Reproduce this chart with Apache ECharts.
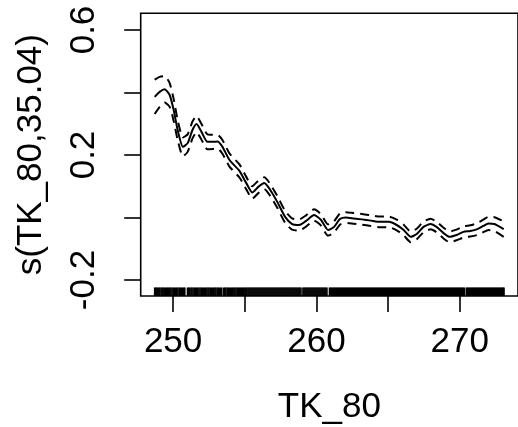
<!DOCTYPE html>
<html>
<head>
<meta charset="utf-8">
<script src="https://cdn.jsdelivr.net/npm/echarts@6/dist/echarts.min.js"></script>
<style>
html,body{margin:0;padding:0;background:#fff;}
#chart{width:518px;height:427px;}
</style>
</head>
<body>
<div id="chart"></div>
<script>
// ---- data ----
const xVals = [248.72, 249.07, 249.42, 249.77, 250.05, 250.33, 250.70, 251.03, 251.37, 251.65, 252.00, 252.42, 252.77, 253.12, 253.47, 253.96, 254.66, 255.14, 255.56, 255.98, 256.40, 256.82, 257.31, 257.86, 258.35, 258.84, 259.33, 259.89, 260.38, 260.87, 261.29, 261.70, 262.12, 262.68, 263.24, 263.87, 264.50, 265.12, 265.68, 266.17, 266.66, 267.08, 267.56, 268.05, 268.47, 268.96, 269.38, 269.87, 270.36, 270.84, 271.33, 271.75, 272.10, 272.52, 273.18];
const fitVals = [0.386, 0.402, 0.410, 0.392, 0.344, 0.280, 0.226, 0.238, 0.280, 0.299, 0.274, 0.242, 0.242, 0.243, 0.226, 0.184, 0.149, 0.110, 0.080, 0.098, 0.110, 0.088, 0.050, 0.002, -0.021, -0.024, -0.011, 0.008, -0.008, -0.040, -0.030, -0.005, 0.000, -0.003, -0.006, -0.010, -0.014, -0.014, -0.024, -0.040, -0.062, -0.053, -0.030, -0.021, -0.030, -0.050, -0.062, -0.056, -0.046, -0.043, -0.037, -0.027, -0.019, -0.021, -0.037];
const upperVals = [0.441, 0.450, 0.452, 0.430, 0.379, 0.312, 0.256, 0.266, 0.307, 0.325, 0.299, 0.266, 0.265, 0.265, 0.248, 0.205, 0.170, 0.130, 0.100, 0.118, 0.129, 0.107, 0.069, 0.021, -0.003, -0.006, 0.007, 0.026, 0.010, -0.022, -0.012, 0.013, 0.017, 0.014, 0.011, 0.007, 0.003, 0.003, -0.007, -0.023, -0.045, -0.036, -0.013, -0.004, -0.013, -0.033, -0.045, -0.039, -0.028, -0.025, -0.018, -0.007, 0.002, 0.001, -0.012];
const lowerVals = [0.331, 0.354, 0.368, 0.354, 0.309, 0.248, 0.196, 0.210, 0.253, 0.273, 0.249, 0.218, 0.219, 0.221, 0.204, 0.163, 0.128, 0.090, 0.060, 0.078, 0.091, 0.069, 0.031, -0.017, -0.039, -0.042, -0.029, -0.010, -0.026, -0.058, -0.048, -0.023, -0.017, -0.020, -0.023, -0.027, -0.031, -0.031, -0.041, -0.057, -0.079, -0.070, -0.047, -0.038, -0.047, -0.067, -0.079, -0.073, -0.064, -0.061, -0.056, -0.047, -0.040, -0.043, -0.062];
const rugVals = [
248.72, 248.79, 248.85, 248.93, 249.01, 249.08, 249.17, 249.24, 249.31, 249.39, 249.47, 249.55, 249.62, 249.71, 249.78, 249.86, 249.94, 250.03, 250.10, 250.19, 250.27, 250.35, 250.44, 250.51, 250.60, 250.68, 250.76, 250.83,
251.02, 251.10, 251.17, 251.26, 251.33, 251.41, 251.50, 251.58, 251.66, 251.73, 251.82, 251.90, 251.98, 252.06, 252.13, 252.22, 252.30, 252.38, 252.46, 252.53, 252.62, 252.70, 252.78, 252.86, 252.94, 253.01, 253.10, 253.18, 253.26, 253.34, 253.42,
253.56, 253.63, 253.71, 253.80, 253.87, 253.95, 254.03, 254.11, 254.19, 254.27, 254.34, 254.42, 254.50, 254.58, 254.66, 254.73, 254.81, 254.89, 254.96, 255.04, 255.11, 255.18, 255.26, 255.33, 255.40, 255.47,
255.54, 255.61, 255.68, 255.75, 255.82, 255.89, 255.96,
256.03, 256.10, 256.17, 256.24, 256.31, 256.38, 256.45, 256.52, 256.59, 256.66, 256.73, 256.80, 256.87, 256.94,
257.01, 257.08, 257.15, 257.22, 257.29, 257.36, 257.43, 257.50, 257.57, 257.64, 257.71, 257.78, 257.85, 257.92, 257.99,
258.06, 258.13, 258.20, 258.27, 258.34, 258.41, 258.48, 258.55, 258.62, 258.69, 258.76, 258.83, 258.90, 258.97,
259.11, 259.18, 259.25, 259.32, 259.39, 259.46, 259.53, 259.60, 259.67, 259.74, 259.81, 259.88, 259.95,
260.02, 260.09, 260.16, 260.23, 260.30, 260.37, 260.44, 260.51, 260.58, 260.65, 260.72, 260.79,
260.97, 261.04, 261.11, 261.18, 261.25, 261.32, 261.39, 261.46, 261.53, 261.60, 261.67, 261.74, 261.81, 261.88, 261.95,
262.02, 262.09, 262.16, 262.23, 262.30, 262.37, 262.44, 262.51, 262.58, 262.65, 262.72, 262.79, 262.86, 262.93,
263.00, 263.07, 263.14, 263.21, 263.28, 263.35, 263.42, 263.49, 263.56, 263.63, 263.70, 263.77, 263.84, 263.91, 263.98,
264.05, 264.12, 264.19, 264.26, 264.33, 264.40, 264.47, 264.54, 264.61, 264.68, 264.75, 264.82, 264.89, 264.96,
265.03, 265.10, 265.17, 265.24, 265.31, 265.38, 265.45, 265.52, 265.59, 265.66, 265.73, 265.80, 265.87, 265.94,
266.01, 266.08, 266.15, 266.22, 266.29, 266.36, 266.43, 266.50, 266.57, 266.64, 266.71, 266.78, 266.85, 266.92, 266.99,
267.06, 267.13, 267.20, 267.27, 267.34, 267.41, 267.48, 267.55, 267.62, 267.69, 267.76, 267.83, 267.90, 267.97,
268.04, 268.11, 268.18, 268.25, 268.32, 268.39, 268.46, 268.53, 268.60, 268.67, 268.74, 268.81, 268.88, 268.95,
269.02, 269.09, 269.16, 269.23, 269.30, 269.37, 269.44, 269.51, 269.58, 269.65, 269.72, 269.79, 269.86, 269.93,
270.00, 270.07, 270.14, 270.21, 270.28, 270.35, 270.42, 270.56, 270.63, 270.70, 270.77, 270.84, 270.91, 270.98,
271.05, 271.12, 271.19, 271.26, 271.33, 271.40, 271.47, 271.54, 271.61, 271.68, 271.75, 271.82, 271.89, 271.96,
272.03, 272.10, 272.17, 272.24, 272.31, 272.38, 272.45, 272.52, 272.59, 272.66, 272.73, 272.80, 272.87, 272.94,
273.01, 273.08, 273.14, 273.20
];
const xTicks = [250, 255, 260, 265, 270];
const xTickLabels = ['250', '', '260', '', '270'];
const yTicks = [-0.2, 0, 0.2, 0.4, 0.6];
const yTickLabels = ['-0.2', '', '0.2', '', '0.6'];
const xTitle = 'TK_80';
const yTitle = 's(TK_80,35.04)';

// ---- layout ----
const FONT = 'Liberation Sans, Arial, Helvetica, sans-serif';
const FS = 35;
const xMin = 247.74, xMax = 274.18, yMin = -0.2512, yMax = 0.6534;
const boxL = 140.7, boxT = 13.3, boxW = 379, boxH = 282.7;
const boxB = boxT + boxH;
const pxPerX = boxW / (xMax - xMin), pxPerY = boxH / (yMax - yMin);
const tickGridL = boxL + (xTicks[0] - xMin) * pxPerX;
const tickGridW = (xTicks[xTicks.length - 1] - xTicks[0]) * pxPerX;
const tickGridT = boxT + (yMax - yTicks[yTicks.length - 1]) * pxPerY;
const tickGridH = (yTicks[yTicks.length - 1] - yTicks[0]) * pxPerY;

function pair(xs, ys) { return xs.map((x, i) => [x, ys[i]]); }
function labelFor(ticks, labels) {
  return v => { const i = ticks.findIndex(t => Math.abs(t - v) < 1e-6); return i >= 0 ? labels[i] : ''; };
}

const chart = echarts.init(document.getElementById('chart'), null, {renderer: 'canvas'});
chart.setOption({
  animation: false,
  backgroundColor: '#fff',
  grid: [
    {left: boxL, top: boxT, width: boxW, height: boxH, show: true, borderColor: '#000', borderWidth: 1.6, backgroundColor: 'transparent'},
    {left: tickGridL, top: tickGridT, width: tickGridW, height: tickGridH}
  ],
  xAxis: [
    {gridIndex: 0, type: 'value', min: xMin, max: xMax, show: false},
    {gridIndex: 1, type: 'value', min: xTicks[0], max: xTicks[xTicks.length - 1], interval: 5, position: 'bottom',
     offset: boxB - (tickGridT + tickGridH),
     axisLine: {show: false, onZero: false}, splitLine: {show: false},
     axisTick: {show: true, length: 16, lineStyle: {color: '#000', width: 1.6}},
     axisLabel: {formatter: labelFor(xTicks, xTickLabels), fontSize: FS, fontFamily: FONT, color: '#000', margin: 29}}
  ],
  yAxis: [
    {gridIndex: 0, type: 'value', min: yMin, max: yMax, show: false},
    {gridIndex: 1, type: 'value', min: yTicks[0], max: yTicks[yTicks.length - 1], interval: 0.2, position: 'left',
     offset: tickGridL - boxL,
     axisLine: {show: false, onZero: false}, splitLine: {show: false},
     axisTick: {show: true, length: 16.5, lineStyle: {color: '#000', width: 1.6}},
     axisLabel: {formatter: labelFor(yTicks, yTickLabels), rotate: 90, fontSize: FS, fontFamily: FONT, color: '#000', margin: 39}}
  ],
  series: [
    {type: 'line', xAxisIndex: 0, yAxisIndex: 0, data: pair(xVals, fitVals), showSymbol: false, symbol: 'none',
     lineStyle: {color: '#000', width: 2}, smooth: 0.2, silent: true},
    {type: 'line', xAxisIndex: 0, yAxisIndex: 0, data: pair(xVals, upperVals), showSymbol: false, symbol: 'none',
     lineStyle: {color: '#000', width: 2, type: [9, 6]}, smooth: 0.2, silent: true},
    {type: 'line', xAxisIndex: 0, yAxisIndex: 0, data: pair(xVals, lowerVals), showSymbol: false, symbol: 'none',
     lineStyle: {color: '#000', width: 2, type: [9, 6]}, smooth: 0.2, silent: true},
    {type: 'custom', xAxisIndex: 0, yAxisIndex: 0, silent: true, clip: false,
     data: rugVals.map(v => [v, yMin]),
     encode: {x: 0, y: 1},
     renderItem: function (params, api) {
       const p = api.coord([api.value(0), yMin]);
       return {type: 'line', shape: {x1: p[0], y1: p[1], x2: p[0], y2: p[1] - 8.5},
               style: {stroke: '#000', lineWidth: 1.6}};
     }}
  ],
  graphic: [
    {type: 'text', x: (boxL + 518) / 2, y: 418 - 0.31 * FS, style: {text: xTitle, font: FS + 'px ' + FONT, fill: '#000', align: 'center', verticalAlign: 'middle'}},
    {type: 'text', x: 41.7 - 0.31 * FS, y: boxT + boxH / 2, rotation: Math.PI / 2, style: {text: yTitle, font: FS + 'px ' + FONT, fill: '#000', align: 'center', verticalAlign: 'middle'}}
  ]
});
</script>
</body>
</html>
